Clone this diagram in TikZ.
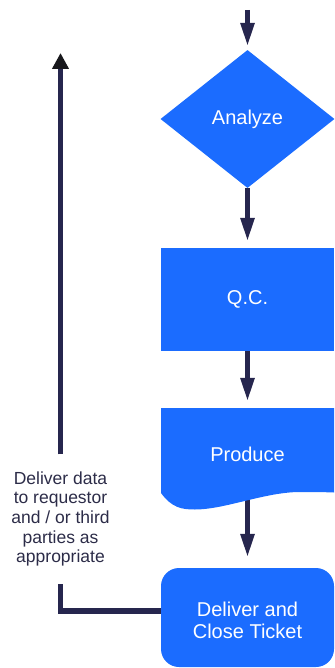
\documentclass[tikz,border=0pt]{standalone}
\usepackage{fontspec}
\setmainfont{Liberation Sans}
\usetikzlibrary{shapes.geometric,arrows.meta,backgrounds}
\definecolor{flowblue}{RGB}{27,108,255}
\definecolor{flowline}{RGB}{38,38,78}
\definecolor{notetext}{RGB}{44,44,72}
\definecolor{tipdark}{RGB}{24,24,28}
\begin{document}
\begin{tikzpicture}[x=1pt,y=-1pt,
  block/.style={fill=flowblue, text=white, font=\fontsize{20}{21.5}\selectfont,
    inner sep=0, align=center},
  flow/.style={draw=flowline, line width=5.5pt, -{Triangle[length=24pt,width=13pt]}},
  back/.style={draw=flowline, line width=5.5pt},
]
\useasboundingbox (0,0) rectangle (334,668);

% process steps
\node[block, diamond, minimum width=174pt, minimum height=138pt] (analyze) at (247.5,119) {Analyze};
\node[block, rectangle, minimum width=173pt, minimum height=103pt] (qc) at (247.5,299.5) {Q.C.};

% document shape with a wavy lower edge
\fill[flowblue] (161,408) -- (334,408) -- (334,492.5)
  .. controls (322,492) and (312,492) .. (300,492)
  .. controls (265,492) and (225,509.5) .. (195,509.5)
  .. controls (182,509.5) and (172,508) .. (161,493) -- cycle;
\node[text=white, font=\fontsize{20}{21.5}\selectfont, inner sep=0,
  minimum width=173pt, minimum height=92pt] (produce) at (247.5,454) {Produce};

\node[block, rounded corners=18pt, minimum width=173pt, minimum height=99pt,
  text height=42pt] (deliver)
  at (247.5,617.5) {Deliver and\\Close Ticket};

% feedback note
\node[font=\fontsize{17.5}{19.7}\selectfont, text=notetext, align=center, inner sep=0,
  minimum height=129pt] (note) at (60.5,519)
  {Deliver data\\to requestor\\and / or third\\parties as\\appropriate};

\coordinate (entry) at (247.5,10);
\coordinate (loopend) at (60.5,53);

\begin{scope}[on background layer]
  \draw[flow, shorten >=3pt] (entry) -- (analyze.north);
  \draw[flow, shorten >=6pt] (analyze.south) -- (qc.north);
  \draw[flow, shorten >=6pt] (qc.south) -- (produce.north);
  \draw[flow, shorten >=10pt] (produce.south) -- (deliver.north);
  \draw[back] ([yshift=6.5pt]deliver.west) -| (note.south);
  \draw[back, -{Triangle[length=16pt,width=16pt,color=tipdark]}] (note.north) -- (loopend);
\end{scope}
\end{tikzpicture}
\end{document}
